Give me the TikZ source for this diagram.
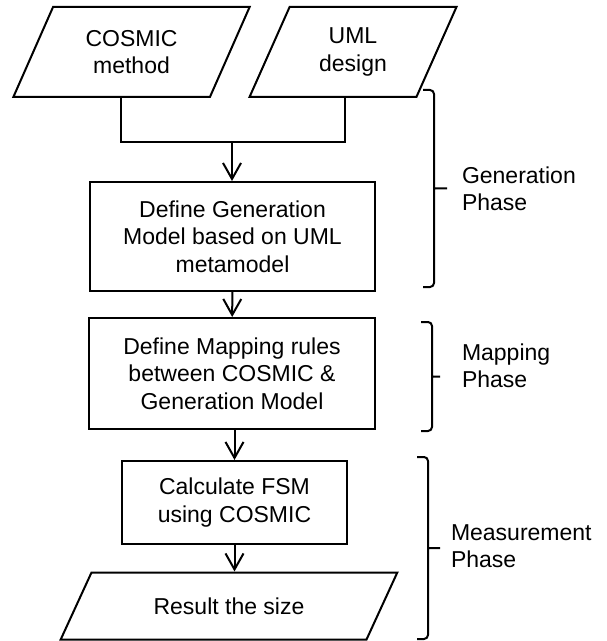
\documentclass[tikz,border=0pt]{standalone}
\usepackage{fontspec}
\setmainfont{Liberation Sans}
\usetikzlibrary{shapes.geometric,arrows.meta}

\begin{document}
\begin{tikzpicture}[x=0.5pt, y=-0.5pt, line width=1pt,
    every node/.style={font=\fontsize{11.5}{13.75}\selectfont, align=center, inner sep=0pt},
    block/.style={draw, rectangle},
    data/.style={draw, trapezium, trapezium stretches=true},
    flow/.style={-{Straight Barb[length=8pt,width=9pt]}},
    phase/.style={anchor=west, align=left}]
    \useasboundingbox (0,0) rectangle (606,641);
    % inputs
    \node[data, trapezium left angle=62, trapezium right angle=118, minimum width=118.5pt, minimum height=45pt] (cosmic) at (131.5,52) {COSMIC\\method};
    \node[data, trapezium left angle=66, trapezium right angle=114, minimum width=104pt, minimum height=45pt] (uml) at (353,52) {UML\\design};
    % steps
    \node[block, minimum width=142.5pt, minimum height=54.5pt] (genmodel) at (232.5,236.5) {Define Generation\\Model based on UML\\metamodel};
    \node[block, minimum width=143pt, minimum height=55.5pt] (mapping) at (232,373.5) {Define Mapping rules\\between COSMIC \&\\Generation Model};
    \node[block, minimum width=112.5pt, minimum height=41.5pt] (fsm) at (234.5,502.5) {Calculate FSM\\using COSMIC};
    \node[data, trapezium left angle=45, trapezium right angle=135, minimum width=169pt, minimum height=33.5pt] (result) at (229,606) {Result the size};
    % joining the inputs
    \coordinate (jl) at (121,142);
    \coordinate (jr) at (345,142);
    \coordinate (jm) at (232,142);
    \draw (cosmic.south -| jl) -- (jl) -- (jr) -- (uml.south -| jr);
    \draw[flow] (jm) -- (jm |- genmodel.north);
    \draw[flow] (genmodel) -- (mapping);
    \draw[flow] (mapping.south -| fsm) -- (fsm);
    \draw[flow] (fsm) -- (fsm |- result.north);
    % phase brackets
    \foreach \yt/\yb/\xb/\xt in {90/287/434/447, 322/431/432/440, 457/639/428/440}
        \draw[rounded corners=2pt] (\xb-11,\yt) -- (\xb,\yt) -- (\xb,\yb) -- (\xb-11,\yb)
            (\xb,{(\yt+\yb)/2}) -- (\xt,{(\yt+\yb)/2});
    \node[phase] (genphase) at (461,189) {Generation\\Phase};
    \node[phase] (mapphase) at (461,366) {Mapping\\Phase};
    \node[phase] (measphase) at (450,546) {Measurement\\Phase};
\end{tikzpicture}
\end{document}
